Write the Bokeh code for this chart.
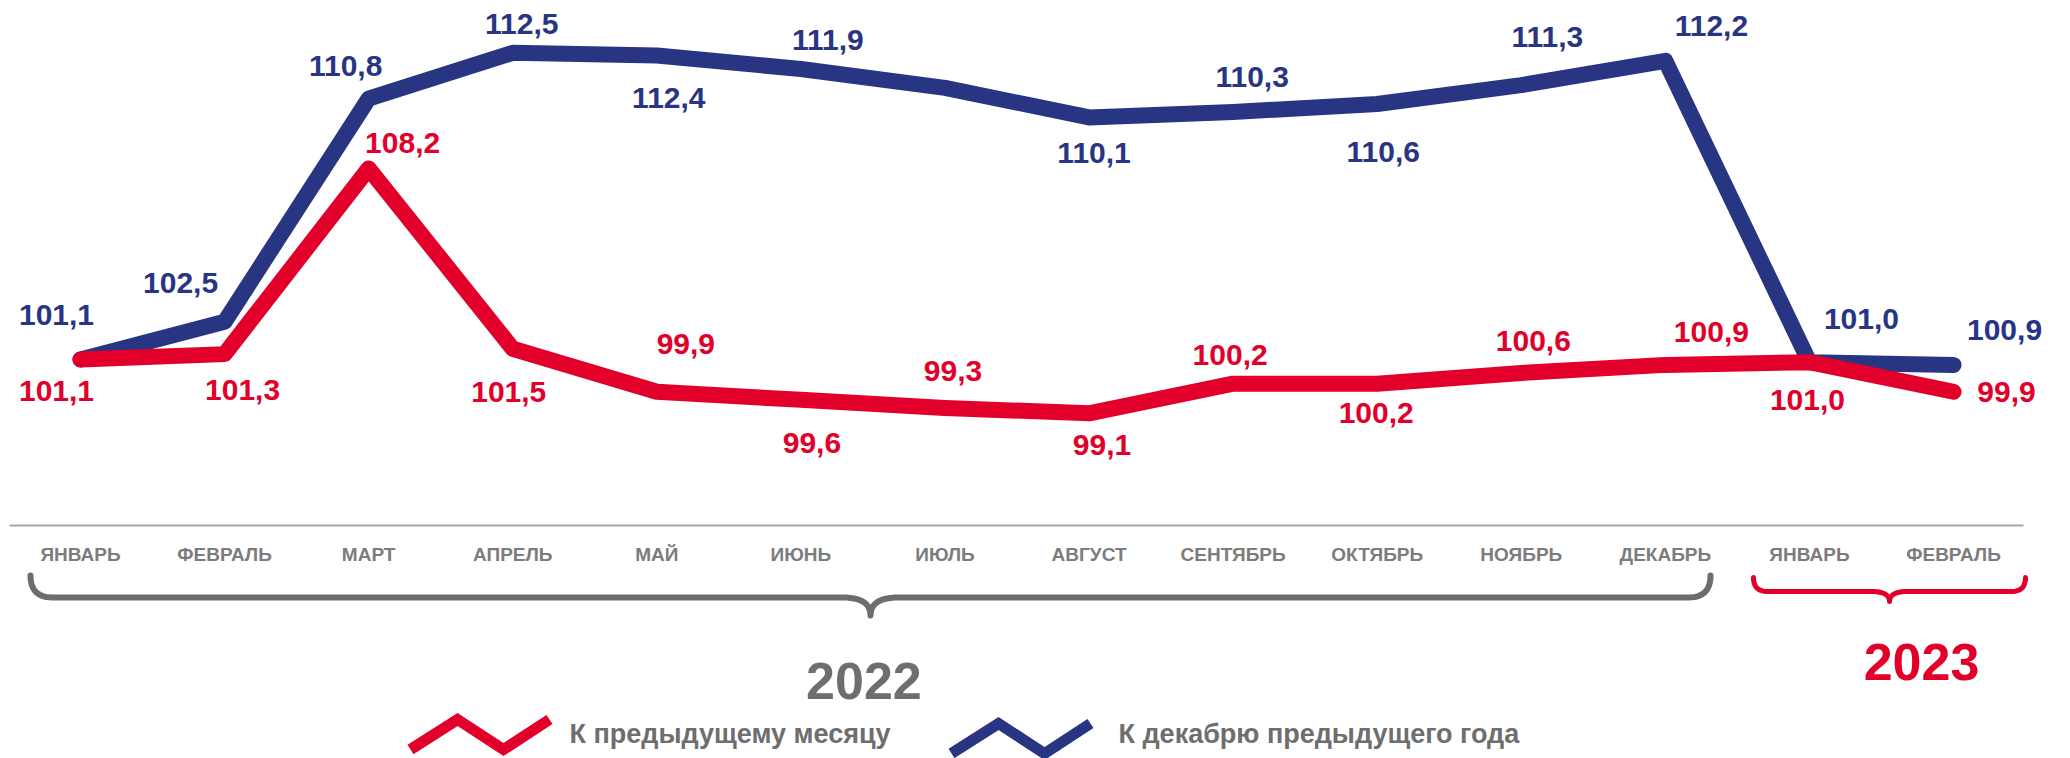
from bokeh.plotting import figure
from bokeh.models import ColumnDataSource, Range1d
from bokeh.core.properties import value
from bokeh.embed import file_html
from bokeh.resources import INLINE
import numpy as np

# ---------------- data ----------------
months = ["ЯНВАРЬ", "ФЕВРАЛЬ", "МАРТ", "АПРЕЛЬ", "МАЙ", "ИЮНЬ", "ИЮЛЬ",
          "АВГУСТ", "СЕНТЯБРЬ", "ОКТЯБРЬ", "НОЯБРЬ", "ДЕКАБРЬ", "ЯНВАРЬ", "ФЕВРАЛЬ"]
month_year = [2022] * 12 + [2023] * 2
years = ["2022", "2023"]
mom = [101.1, 101.3, 108.2, 101.5, 99.9, 99.6, 99.3, 99.1, 100.2, 100.2, 100.6, 100.9, 101.0, 99.9]
ytd = [101.1, 102.5, 110.8, 112.5, 112.4, 111.9, 111.2, 110.1, 110.3, 110.6, 111.3, 112.2, 101.0, 100.9]
ytd_shown = [True] * 6 + [False] + [True] * 7
series_names = ["К предыдущему месяцу", "К декабрю предыдущего года"]

# ---------------- styles / layout ----------------
RED = "#E2002B"
BLUE = "#283583"
GRAY_T = "#6E6E6E"
GRAY_M = "#7C7C7C"
FONT = value("Liberation Sans")

W, H = 2070, 758
ORG = 0
X0, DX = 80.0, 144.08      # screen x of first month, px per month
V0, Y0, K = 101.1, 359.0, 26.9  # value V0 at screen y Y0, px per unit

def sx(px):
    return (px - X0) / DX

def sy(py):
    return V0 - (py - Y0) / K

x_start = sx(ORG)
x_end = x_start + W / DX
y_end = sy(ORG)
y_start = y_end - H / K

p = figure(width=W, height=H, output_backend="svg", toolbar_location=None,
           x_range=Range1d(x_start, x_end), y_range=Range1d(y_start, y_end),
           x_axis_type=None, y_axis_type=None, min_border=0)
p.outline_line_color = None
p.grid.visible = False
p.background_fill_color = "white"
p.border_fill_color = "white"

idx = list(range(len(months)))
fmt = lambda v: f"{v:.1f}".replace(".", ",")

# lines
p.line(idx, ytd, line_color=BLUE, line_width=16, line_join="round", line_cap="round")
p.line(idx, mom, line_color=RED, line_width=16, line_join="round", line_cap="round")

# value labels (offsets are placement only)
ytd_dx = [-24, -44, -23, 9, 12, 27, 0, 5, 19, 6, 26, 46, 52, 51]
ytd_dy = [-45, -39, -33, -29, 42, -29, 0, 36, -35, 48, -48, -35, -43, -35]
mom_dx = [-24, 18, 34, -4, 29, 11, 8, 13, -3, -1, 12, 46, -2, 53]
mom_dy = [31, 36, -26, 43, -48, 43, -37, 32, -29, 29, -32, -33, 38, 0]

src_ytd = ColumnDataSource(dict(x=idx, y=ytd,
                                t=[fmt(v) if s else "" for v, s in zip(ytd, ytd_shown)],
                                dx=ytd_dx, dy=ytd_dy))
src_mom = ColumnDataSource(dict(x=idx, y=mom, t=[fmt(v) for v in mom], dx=mom_dx, dy=mom_dy))
for src, col in ((src_ytd, BLUE), (src_mom, RED)):
    p.text(x="x", y="y", text="t", x_offset="dx", y_offset="dy", source=src,
           text_font=FONT, text_font_style="bold", text_font_size="30px",
           text_color=col, text_align="center", text_baseline="middle")

# axis line
p.segment(x0=[sx(9)], y0=[sy(525)], x1=[sx(2023)], y1=[sy(525)],
          line_color="#A6A6A6", line_width=2)

# month labels
src_m = ColumnDataSource(dict(x=idx, y=[sy(554)] * len(idx), t=months))
p.text(x="x", y="y", text="t", source=src_m, text_font=FONT, text_font_style="bold",
       text_font_size="19px", text_color=GRAY_M, text_align="center", text_baseline="middle")

# braces
def quad(p0, c, p1, n=14):
    t = np.linspace(0, 1, n)
    x = (1 - t) ** 2 * p0[0] + 2 * (1 - t) * t * c[0] + t ** 2 * p1[0]
    y = (1 - t) ** 2 * p0[1] + 2 * (1 - t) * t * c[1] + t ** 2 * p1[1]
    return list(x), list(y)

def brace(L, R, top, bar, tip, r, r2):
    M = (L + R) / 2
    xs, ys = [L], [top]
    for seg in (quad((L, bar - r), (L, bar), (L + r, bar)),
                quad((M - r2, bar), (M, bar), (M, tip)),
                quad((M, tip), (M, bar), (M + r2, bar)),
                quad((R - r, bar), (R, bar), (R, bar - r))):
        xs += seg[0]
        ys += seg[1]
    xs.append(R)
    ys.append(top)
    return [sx(v) for v in xs], [sy(v) for v in ys]

bx, by = brace(30, 1710, 578, 597, 615, 22, 28)
p.line(bx, by, line_color="#6D6D6D", line_width=6, line_join="round")
bx, by = brace(1753, 2025, 580, 591, 601, 14, 18)
p.line(bx, by, line_color=RED, line_width=5, line_join="round")

# year labels
year_pos = [np.mean([i for i, y in zip(idx, month_year) if str(y) == yr]) for yr in years]
src_y = ColumnDataSource(dict(x=year_pos, y=[sy(680), sy(661)], t=years,
                              c=[GRAY_T, RED], dx=[-9, 40]))
p.text(x="x", y="y", text="t", x_offset="dx", source=src_y, text_color="c",
       text_font=FONT, text_font_style="bold", text_font_size="52px",
       text_align="center", text_baseline="middle")

# legend
def icon(x0, y0):
    xs = [x0, x0 + 47, x0 + 93, x0 + 139]
    ys = [y0 + 30, y0, y0 + 30, y0]
    return [sx(v) for v in xs], [sy(v) for v in ys]

for x0, y0, col, name, tx in ((410, 719, RED, series_names[0], 569),
                              (951, 723, BLUE, series_names[1], 1118)):
    ix, iy = icon(x0, y0)
    p.line(ix, iy, line_color=col, line_width=11, line_join="miter", line_cap="butt")
    p.text(x=[sx(tx)], y=[sy(733)], text=[name], text_font=FONT, text_font_style="bold",
           text_font_size="27px", text_color=GRAY_T, text_align="left",
           text_baseline="middle")

open("out.html", "w").write(file_html(p, INLINE))
